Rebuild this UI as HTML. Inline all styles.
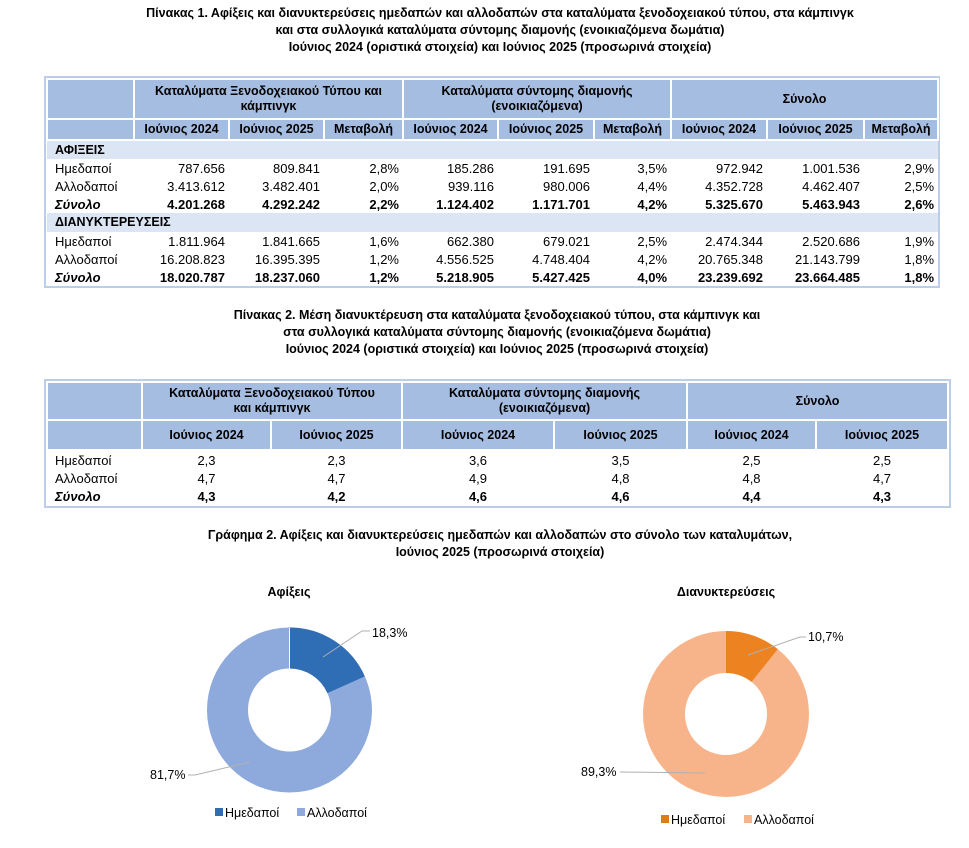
<!DOCTYPE html>
<html><head><meta charset="utf-8">
<style>
body{margin:0;width:969px;height:848px;background:#fff;position:relative;overflow:hidden;font-family:"Liberation Sans",sans-serif;color:#000}
.t{position:absolute;left:0;width:1000px;text-align:center;font-weight:bold;font-size:12.5px;line-height:17px}
.box{position:absolute;border:2px solid #bccde9;background:#fff}
table{border-collapse:collapse;table-layout:fixed;font-size:13px}
td{padding:0 4px;white-space:nowrap;overflow:hidden;height:18px;line-height:17px}
.h{background:#a6bde2;border:2px solid #fff;text-align:center;font-weight:bold;font-size:12.5px;line-height:15px}
.s{background:#dbe5f4;font-weight:bold;font-size:12.5px}
.r{text-align:right}
.c{text-align:center}
.b td{font-weight:bold}
.b td:first-child{font-style:italic}
</style></head><body>
<div class="t" style="top:5px">Πίνακας 1. Αφίξεις και διανυκτερεύσεις ημεδαπών και αλλοδαπών στα καταλύματα ξενοδοχειακού τύπου, στα κάμπινγκ</div>
<div class="t" style="top:22px">και στα συλλογικά καταλύματα σύντομης διαμονής (ενοικιαζόμενα δωμάτια)</div>
<div class="t" style="top:39px">Ιούνιος 2024 (οριστικά στοιχεία) και Ιούνιος 2025 (προσωρινά στοιχεία)</div>

<div class="box" style="left:44px;top:76px;width:892px;height:208px">
<table style="width:891px">
<colgroup><col style="width:87px"><col style="width:95px"><col style="width:95px"><col style="width:79px"><col style="width:95px"><col style="width:96px"><col style="width:77px"><col style="width:96px"><col style="width:97px"><col style="width:74px"></colgroup>
<tr style="height:40px"><td class="h"></td><td class="h" colspan="3">Καταλύματα Ξενοδοχειακού Τύπου και<br>κάμπινγκ</td><td class="h" colspan="3">Καταλύματα σύντομης διαμονής<br>(ενοικιαζόμενα)</td><td class="h" colspan="3">Σύνολο</td></tr>
<tr style="height:21px"><td class="h"></td><td class="h">Ιούνιος 2024</td><td class="h">Ιούνιος 2025</td><td class="h">Μεταβολή</td><td class="h">Ιούνιος 2024</td><td class="h">Ιούνιος 2025</td><td class="h">Μεταβολή</td><td class="h">Ιούνιος 2024</td><td class="h">Ιούνιος 2025</td><td class="h">Μεταβολή</td></tr>
<tr><td class="s" colspan="10" style="padding-left:8px">ΑΦΙΞΕΙΣ</td></tr>
<tr><td style="padding-left:8px">Ημεδαποί</td><td class="r">787.656</td><td class="r">809.841</td><td class="r">2,8%</td><td class="r">185.286</td><td class="r">191.695</td><td class="r">3,5%</td><td class="r">972.942</td><td class="r">1.001.536</td><td class="r">2,9%</td></tr>
<tr><td style="padding-left:8px">Αλλοδαποί</td><td class="r">3.413.612</td><td class="r">3.482.401</td><td class="r">2,0%</td><td class="r">939.116</td><td class="r">980.006</td><td class="r">4,4%</td><td class="r">4.352.728</td><td class="r">4.462.407</td><td class="r">2,5%</td></tr>
<tr class="b"><td style="padding-left:8px">Σύνολο</td><td class="r">4.201.268</td><td class="r">4.292.242</td><td class="r">2,2%</td><td class="r">1.124.402</td><td class="r">1.171.701</td><td class="r">4,2%</td><td class="r">5.325.670</td><td class="r">5.463.943</td><td class="r">2,6%</td></tr>
<tr style="height:19px"><td class="s" colspan="10" style="padding-left:8px">ΔΙΑΝΥΚΤΕΡΕΥΣΕΙΣ</td></tr>
<tr><td style="padding-left:8px">Ημεδαποί</td><td class="r">1.811.964</td><td class="r">1.841.665</td><td class="r">1,6%</td><td class="r">662.380</td><td class="r">679.021</td><td class="r">2,5%</td><td class="r">2.474.344</td><td class="r">2.520.686</td><td class="r">1,9%</td></tr>
<tr><td style="padding-left:8px">Αλλοδαποί</td><td class="r">16.208.823</td><td class="r">16.395.395</td><td class="r">1,2%</td><td class="r">4.556.525</td><td class="r">4.748.404</td><td class="r">4,2%</td><td class="r">20.765.348</td><td class="r">21.143.799</td><td class="r">1,8%</td></tr>
<tr class="b"><td style="padding-left:8px">Σύνολο</td><td class="r">18.020.787</td><td class="r">18.237.060</td><td class="r">1,2%</td><td class="r">5.218.905</td><td class="r">5.427.425</td><td class="r">4,0%</td><td class="r">23.239.692</td><td class="r">23.664.485</td><td class="r">1,8%</td></tr>
</table></div>

<div class="t" style="top:307px;left:-3px">Πίνακας 2. Μέση διανυκτέρευση στα καταλύματα ξενοδοχειακού τύπου, στα κάμπινγκ και</div>
<div class="t" style="top:324px;left:-3px">στα συλλογικά καταλύματα σύντομης διαμονής (ενοικιαζόμενα δωμάτια)</div>
<div class="t" style="top:341px;left:-3px">Ιούνιος 2024 (οριστικά στοιχεία) και Ιούνιος 2025 (προσωρινά στοιχεία)</div>

<div class="box" style="left:44px;top:379px;width:903px;height:125px">
<table style="width:901px">
<colgroup><col style="width:95px"><col style="width:129px"><col style="width:131px"><col style="width:152px"><col style="width:133px"><col style="width:129px"><col style="width:132px"></colgroup>
<tr style="height:38px"><td class="h"></td><td class="h" colspan="2">Καταλύματα Ξενοδοχειακού Τύπου<br>και κάμπινγκ</td><td class="h" colspan="2">Καταλύματα σύντομης διαμονής<br>(ενοικιαζόμενα)</td><td class="h" colspan="2">Σύνολο</td></tr>
<tr style="height:30px"><td class="h"></td><td class="h">Ιούνιος 2024</td><td class="h">Ιούνιος 2025</td><td class="h">Ιούνιος 2024</td><td class="h">Ιούνιος 2025</td><td class="h">Ιούνιος 2024</td><td class="h">Ιούνιος 2025</td></tr>
<tr style="height:19px"><td style="padding-left:8px">Ημεδαποί</td><td class="c">2,3</td><td class="c">2,3</td><td class="c">3,6</td><td class="c">3,5</td><td class="c">2,5</td><td class="c">2,5</td></tr>
<tr><td style="padding-left:8px">Αλλοδαποί</td><td class="c">4,7</td><td class="c">4,7</td><td class="c">4,9</td><td class="c">4,8</td><td class="c">4,8</td><td class="c">4,7</td></tr>
<tr class="b"><td style="padding-left:8px">Σύνολο</td><td class="c">4,3</td><td class="c">4,2</td><td class="c">4,6</td><td class="c">4,6</td><td class="c">4,4</td><td class="c">4,3</td></tr>
</table></div>

<div class="t" style="top:527px">Γράφημα 2. Αφίξεις και διανυκτερεύσεις ημεδαπών και αλλοδαπών στο σύνολο των καταλυμάτων,</div>
<div class="t" style="top:544px">Ιούνιος 2025  (προσωρινά στοιχεία)</div>

<svg width="969" height="848" style="position:absolute;left:0;top:0" font-family="Liberation Sans, sans-serif">
<text x="289" y="596" text-anchor="middle" font-size="12.5" font-weight="bold">Αφίξεις</text>
<text x="726" y="596" text-anchor="middle" font-size="12.5" font-weight="bold">Διανυκτερεύσεις</text>
<circle cx="289.5" cy="710" r="62" fill="none" stroke="#8eaadc" stroke-width="41"/>
<circle cx="289.5" cy="710" r="62" fill="none" stroke="#2f6db4" stroke-width="41" stroke-dasharray="71.3 400" transform="rotate(-90 289.5 710)"/>
<line x1="289.5" y1="669" x2="289.5" y2="628" stroke="#fff" stroke-width="1"/>
<circle cx="726" cy="714" r="62" fill="none" stroke="#f7b48a" stroke-width="42"/>
<circle cx="726" cy="714" r="62" fill="none" stroke="#ec8320" stroke-width="42" stroke-dasharray="41.7 400" transform="rotate(-90 726 714)"/>
<g stroke="#b0b0b0" stroke-width="1" fill="none">
<polyline points="323,657 362,631 370,631"/>
<polyline points="250,762 195,775 188,775"/>
<polyline points="748,655 800,637 806,637"/>
<polyline points="705,773 620,772"/>
</g>
<g font-size="12.5">
<text x="372" y="637">18,3%</text>
<text x="150" y="779">81,7%</text>
<text x="808" y="641">10,7%</text>
<text x="581" y="776">89,3%</text>
</g>
<g font-size="12.5">
<rect x="215" y="808" width="8" height="8" fill="#2f6db4"/><text x="225" y="817">Ημεδαποί</text>
<rect x="297" y="808" width="8" height="8" fill="#8eaadc"/><text x="307" y="817">Αλλοδαποί</text>
<rect x="661" y="815" width="8" height="8" fill="#e07b10"/><text x="671" y="824">Ημεδαποί</text>
<rect x="744" y="815" width="8" height="8" fill="#f7b48a"/><text x="754" y="824">Αλλοδαποί</text>
</g>
</svg>
</body></html>
